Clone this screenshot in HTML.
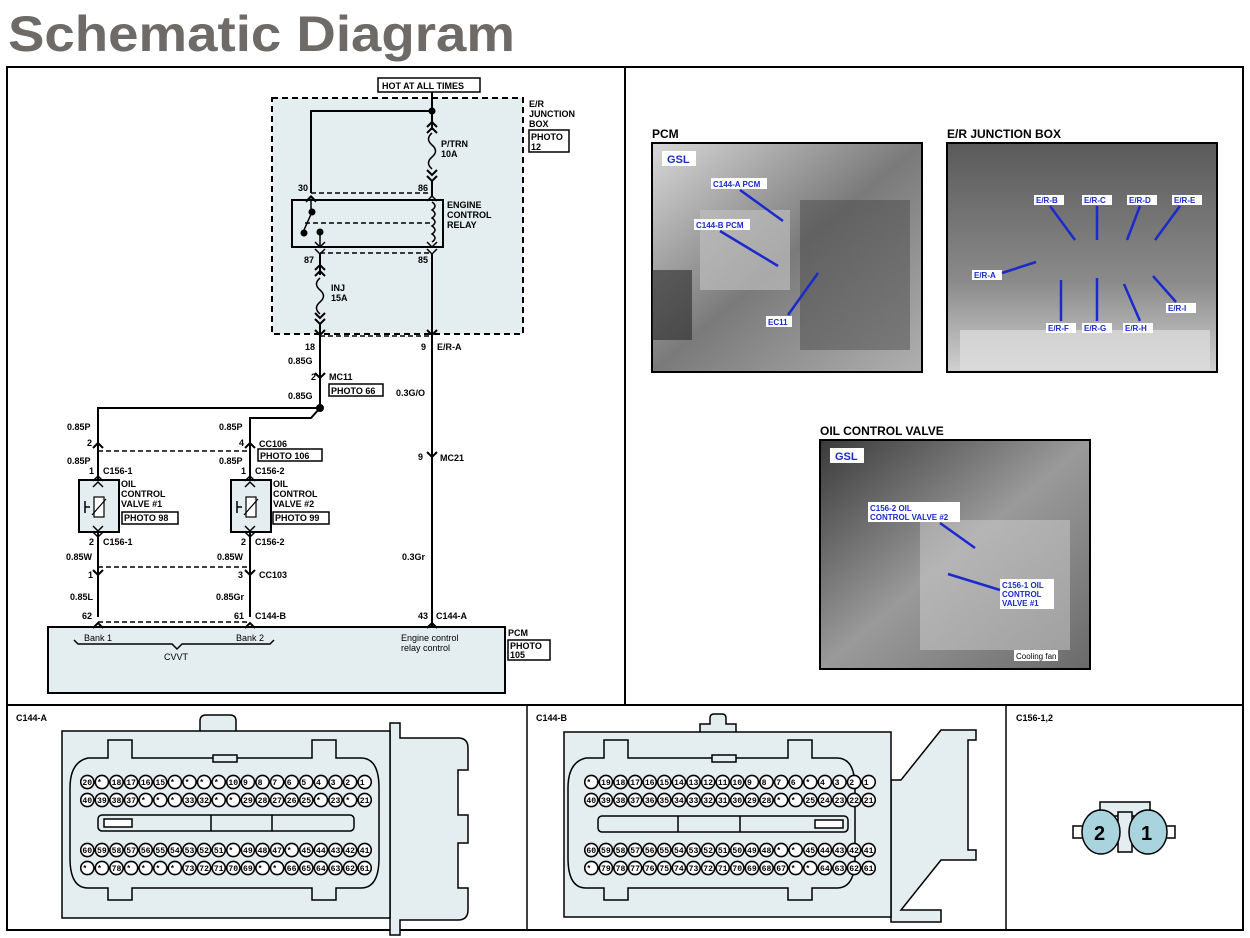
<!DOCTYPE html>
<html><head><meta charset="utf-8"><style>
html,body{margin:0;padding:0;background:#fff;}
svg{display:block;font-family:"Liberation Sans",Arial,sans-serif;}
.t{font-size:9px;font-weight:bold;}
.pin{font-family:"Liberation Mono",monospace;font-size:8.111px;font-weight:bold;}
</style></head><body>
<svg width="1250" height="938" viewBox="0 0 1250 938" xmlns="http://www.w3.org/2000/svg">
<defs>
<pattern id="pa1" x="80" y="773" width="14.6" height="18" patternUnits="userSpaceOnUse"><circle cx="7.3" cy="9" r="6.6" fill="#fff" stroke="#000" stroke-width="1.6"/></pattern>
<pattern id="pa2" x="80" y="841" width="14.6" height="18" patternUnits="userSpaceOnUse"><circle cx="7.3" cy="9" r="6.6" fill="#fff" stroke="#000" stroke-width="1.6"/></pattern>
<pattern id="pb1" x="584" y="773" width="14.6" height="18" patternUnits="userSpaceOnUse"><circle cx="7.3" cy="9" r="6.6" fill="#fff" stroke="#000" stroke-width="1.6"/></pattern>
<pattern id="pb2" x="584" y="841" width="14.6" height="18" patternUnits="userSpaceOnUse"><circle cx="7.3" cy="9" r="6.6" fill="#fff" stroke="#000" stroke-width="1.6"/></pattern>
<linearGradient id="g1" x1="0" y1="0" x2="1" y2="1"><stop offset="0" stop-color="#d8d8d8"/><stop offset="0.5" stop-color="#7a7a7a"/><stop offset="1" stop-color="#b0b0b0"/></linearGradient>
<linearGradient id="g2" x1="0" y1="0" x2="0" y2="1"><stop offset="0" stop-color="#5a5a5a"/><stop offset="0.6" stop-color="#8a8a8a"/><stop offset="1" stop-color="#d0d0d0"/></linearGradient>
<linearGradient id="g3" x1="0" y1="0" x2="1" y2="1"><stop offset="0" stop-color="#3a3a3a"/><stop offset="0.5" stop-color="#9a9a9a"/><stop offset="1" stop-color="#6a6a6a"/></linearGradient>
</defs>
<text x="8" y="51" font-size="50" font-weight="bold" fill="#6e6a67" textLength="507" lengthAdjust="spacingAndGlyphs">Schematic Diagram</text>
<rect x="7" y="67" width="1236" height="863" fill="none" stroke="#000" stroke-width="2"/>
<line x1="625" y1="67" x2="625" y2="705" stroke="#000" stroke-width="2"/>
<line x1="7" y1="705" x2="1243" y2="705" stroke="#000" stroke-width="2"/>
<line x1="527" y1="705" x2="527" y2="930" stroke="#000" stroke-width="1.5"/>
<line x1="1006" y1="705" x2="1006" y2="930" stroke="#000" stroke-width="1.5"/>

<g stroke="#000" fill="none" stroke-width="2">
<rect x="272" y="98" width="251" height="236" fill="#e4edf0" stroke-dasharray="6,4"/>
<rect x="378" y="78" width="102" height="14" fill="#fff" stroke-width="1.5"/>
<polyline points="432,92 432,111 311,111 311,193"/>
<circle cx="432" cy="111" r="2.5" fill="#000"/>
<line x1="432" y1="111" x2="432" y2="130"/>
<polyline points="427,127 432,122 437,127"/><polyline points="427,133 432,128 437,133"/>
<path d="M432 133 q-7 6 0 12 q7 6 0 12 q-7 6 0 12" stroke-width="1.5"/>
<polyline points="427,170 432,175 437,170"/><polyline points="427,176 432,181 437,176"/>
<line x1="432" y1="181" x2="432" y2="196"/>
<rect x="292" y="200" width="151" height="47"/>
<line x1="311" y1="193" x2="432" y2="193" stroke-dasharray="5,3" stroke-width="1.5"/>
<line x1="320" y1="253" x2="432" y2="253" stroke-dasharray="5,3" stroke-width="1.5"/>
<polyline points="306,201 311,196 316,201" stroke-width="1.5"/><polyline points="427,201 432,196 437,201" stroke-width="1.5"/>
<polyline points="306,202 311,197 316,202" stroke-width="1.5"/>
<line x1="311" y1="200" x2="311" y2="212" stroke-width="1.5"/>
<circle cx="312" cy="212" r="2.5" fill="#000"/>
<path d="M312 212 L304 230 L304 233" stroke-width="1.5"/>
<circle cx="304" cy="233" r="2.5" fill="#000"/><circle cx="320" cy="232" r="2.5" fill="#000"/>
<line x1="320" y1="232" x2="320" y2="248" stroke-width="1.5"/>
<polyline points="315,242 320,247 325,242" stroke-width="1.5"/><polyline points="315,249 320,254 325,249" stroke-width="1.5"/>
<line x1="305" y1="223" x2="432" y2="223" stroke-dasharray="5,3" stroke-width="1.5"/>
<path d="M432 202 q6 4 0 8 q6 4 0 8 q6 4 0 8 q6 4 0 8 q6 4 0 8" stroke-width="1.5"/>
<polyline points="427,242 432,247 437,242" stroke-width="1.5"/><polyline points="427,249 432,254 437,249" stroke-width="1.5"/>
<line x1="320" y1="254" x2="320" y2="275"/>
<polyline points="315,270 320,265 325,270"/><polyline points="315,276 320,271 325,276"/>
<path d="M320 278 q-7 6 0 12 q7 6 0 12 q-7 6 0 12" stroke-width="1.5"/>
<polyline points="315,313 320,318 325,313"/><polyline points="315,319 320,324 325,319"/><polyline points="315,330 320,335 325,330"/>
<line x1="320" y1="324" x2="320" y2="408"/>
<line x1="320" y1="336" x2="432" y2="336" stroke-dasharray="5,3" stroke-width="1.5"/>
<line x1="432" y1="254" x2="432" y2="628"/>
<polyline points="427,330 432,335 437,330"/>
<polyline points="315,373 320,378 325,373"/>
<polyline points="427,452 432,457 437,452"/>
<rect x="329" y="384" width="54" height="12" stroke-width="1.5"/>
<polyline points="98,443 98,408 320,408"/>
<circle cx="320" cy="408" r="3" fill="#000"/>
<polyline points="250,443 250,418 311,418 320,408"/>
<polyline points="93,448 98,443 103,448"/><polyline points="245,448 250,443 255,448"/>
<line x1="98" y1="451" x2="250" y2="451" stroke-dasharray="5,3" stroke-width="1.5"/>
<line x1="98" y1="443" x2="98" y2="617"/><line x1="250" y1="443" x2="250" y2="617"/>
<rect x="258" y="449" width="64" height="12" stroke-width="1.5"/>
<rect x="79" y="480" width="40" height="52" fill="#e4edf0"/>
<rect x="231" y="480" width="40" height="52" fill="#e4edf0"/>
<polyline points="93,481 98,476 103,481" stroke-width="1.5"/><polyline points="245,481 250,476 255,481" stroke-width="1.5"/>
<polyline points="93,487 98,482 103,487" stroke-width="1.5"/><polyline points="245,487 250,482 255,487" stroke-width="1.5"/>
<polyline points="93,526 98,531 103,526" stroke-width="1.5"/><polyline points="245,526 250,531 255,526" stroke-width="1.5"/>
<polyline points="93,532 98,537 103,532" stroke-width="1.5"/><polyline points="245,532 250,537 255,532" stroke-width="1.5"/>
<rect x="94" y="497" width="10" height="20" fill="#fff" stroke-width="1.2"/><line x1="92" y1="515" x2="106" y2="499" stroke-width="1.2"/>
<rect x="246" y="497" width="10" height="20" fill="#fff" stroke-width="1.2"/><line x1="244" y1="515" x2="258" y2="499" stroke-width="1.2"/>
<path d="M85 501 v12 M85 507 h5" stroke-width="1.5"/><path d="M237 501 v12 M237 507 h5" stroke-width="1.5"/>
<rect x="122" y="512" width="56" height="12" stroke-width="1.5"/>
<rect x="273" y="512" width="56" height="12" stroke-width="1.5"/>
<polyline points="93,570 98,575 103,570"/><polyline points="245,570 250,575 255,570"/>
<line x1="98" y1="567" x2="250" y2="567" stroke-dasharray="5,3" stroke-width="1.5"/>
<line x1="98" y1="622" x2="250" y2="622" stroke-dasharray="5,3" stroke-width="1.5"/>
<rect x="48" y="627" width="457" height="66" fill="#e4edf0"/>
<polyline points="93,628 98,623 103,628"/><polyline points="245,628 250,623 255,628"/><polyline points="427,628 432,623 437,628"/>
<path d="M74 640 l4 4 h94 l5 5 l5 -5 h88 l4 -4" stroke-width="1.5"/>
<rect x="508" y="640" width="42" height="20" stroke-width="1.5"/>
<rect x="529" y="130" width="40" height="22" stroke-width="1.5"/>
</g>
<g class="t">
<text x="382" y="89">HOT AT ALL TIMES</text>
<text x="529" y="107">E/R</text><text x="529" y="117">JUNCTION</text><text x="529" y="127">BOX</text>
<text x="531" y="140">PHOTO</text><text x="531" y="150">12</text>
<text x="441" y="147">P/TRN</text><text x="441" y="157">10A</text>
<text x="298" y="191">30</text><text x="418" y="191">86</text>
<text x="447" y="208">ENGINE</text><text x="447" y="218">CONTROL</text><text x="447" y="228">RELAY</text>
<text x="304" y="263">87</text><text x="418" y="263">85</text>
<text x="331" y="291">INJ</text><text x="331" y="301">15A</text>
<text x="305" y="350">18</text><text x="421" y="350">9</text><text x="437" y="350">E/R-A</text>
<text x="288" y="364">0.85G</text>
<text x="311" y="380">2</text><text x="329" y="380">MC11</text>
<text x="331" y="394">PHOTO 66</text>
<text x="288" y="399">0.85G</text><text x="396" y="396">0.3G/O</text>
<text x="67" y="430">0.85P</text><text x="219" y="430">0.85P</text>
<text x="87" y="446">2</text><text x="239" y="446">4</text><text x="259" y="447">CC106</text>
<text x="260" y="459">PHOTO 106</text>
<text x="67" y="464">0.85P</text><text x="219" y="464">0.85P</text>
<text x="89" y="474">1</text><text x="103" y="474">C156-1</text><text x="241" y="474">1</text><text x="255" y="474">C156-2</text>
<text x="121" y="487">OIL</text><text x="121" y="497">CONTROL</text><text x="121" y="507">VALVE #1</text>
<text x="273" y="487">OIL</text><text x="273" y="497">CONTROL</text><text x="273" y="507">VALVE #2</text>
<text x="124" y="521">PHOTO 98</text><text x="275" y="521">PHOTO 99</text>
<text x="418" y="460">9</text><text x="440" y="461">MC21</text>
<text x="89" y="545">2</text><text x="103" y="545">C156-1</text><text x="241" y="545">2</text><text x="255" y="545">C156-2</text>
<text x="66" y="560">0.85W</text><text x="217" y="560">0.85W</text><text x="402" y="560">0.3Gr</text>
<text x="88" y="578">1</text><text x="238" y="578">3</text><text x="259" y="578">CC103</text>
<text x="70" y="600">0.85L</text><text x="216" y="600">0.85Gr</text>
<text x="82" y="619">62</text><text x="234" y="619">61</text><text x="255" y="619">C144-B</text>
<text x="418" y="619">43</text><text x="436" y="619">C144-A</text>
<text x="508" y="636">PCM</text><text x="510" y="649">PHOTO</text><text x="510" y="658">105</text>
</g>
<g font-size="9">
<text x="84" y="641">Bank 1</text><text x="236" y="641">Bank 2</text><text x="164" y="660">CVVT</text>
<text x="401" y="641">Engine control</text><text x="401" y="651">relay control</text>
</g>

<g font-weight="bold" font-size="12">
<text x="652" y="138">PCM</text><text x="947" y="138">E/R JUNCTION BOX</text><text x="820" y="435">OIL CONTROL VALVE</text>
</g>
<rect x="652" y="143" width="270" height="229" fill="url(#g1)" stroke="#000" stroke-width="2"/>
<rect x="700" y="210" width="90" height="80" fill="#bdbdbd" opacity="0.7"/>
<rect x="800" y="200" width="110" height="150" fill="#4a4a4a" opacity="0.5"/>
<rect x="652" y="270" width="40" height="70" fill="#2a2a2a" opacity="0.6"/>
<rect x="947" y="143" width="270" height="229" fill="url(#g2)" stroke="#000" stroke-width="2"/>
<rect x="960" y="330" width="250" height="40" fill="#e0e0e0" opacity="0.7"/>
<rect x="820" y="440" width="270" height="229" fill="url(#g3)" stroke="#000" stroke-width="2"/>
<rect x="920" y="520" width="150" height="130" fill="#cfcfcf" opacity="0.5"/>
<g fill="#fff"><rect x="662" y="151" width="34" height="15"/><rect x="830" y="448" width="34" height="15"/>
<rect x="711" y="178" width="56" height="11"/><rect x="694" y="219" width="56" height="11"/><rect x="766" y="316" width="26" height="11"/>
<rect x="1034" y="195" width="30" height="10"/><rect x="1082" y="195" width="30" height="10"/><rect x="1127" y="195" width="30" height="10"/><rect x="1172" y="195" width="30" height="10"/>
<rect x="972" y="270" width="30" height="10"/><rect x="1046" y="323" width="30" height="10"/><rect x="1082" y="323" width="30" height="10"/><rect x="1123" y="323" width="30" height="10"/><rect x="1166" y="303" width="30" height="10"/>
<rect x="868" y="502" width="92" height="20"/><rect x="1000" y="579" width="54" height="30"/><rect x="1014" y="650" width="44" height="11"/></g>
<g fill="#1a2acc" font-weight="bold" font-size="8">
<text x="667" y="163" font-size="11">GSL</text><text x="835" y="460" font-size="11">GSL</text>
<text x="713" y="187">C144-A PCM</text><text x="696" y="228">C144-B PCM</text><text x="768" y="325">EC11</text>
<text x="1036" y="203">E/R-B</text><text x="1084" y="203">E/R-C</text><text x="1129" y="203">E/R-D</text><text x="1174" y="203">E/R-E</text>
<text x="974" y="278">E/R-A</text><text x="1048" y="331">E/R-F</text><text x="1084" y="331">E/R-G</text><text x="1125" y="331">E/R-H</text><text x="1168" y="311">E/R-I</text>
<text x="870" y="511">C156-2 OIL</text><text x="870" y="520">CONTROL VALVE #2</text>
<text x="1002" y="588">C156-1 OIL</text><text x="1002" y="597">CONTROL</text><text x="1002" y="606">VALVE #1</text>
</g>
<text x="1016" y="659" font-size="8" fill="#000">Cooling fan</text>
<g stroke="#1a2acc" stroke-width="2.5">
<line x1="740" y1="190" x2="783" y2="221"/><line x1="720" y1="231" x2="778" y2="266"/><line x1="788" y1="315" x2="818" y2="273"/>
<line x1="1050" y1="206" x2="1075" y2="240"/><line x1="1097" y1="206" x2="1097" y2="240"/><line x1="1140" y1="206" x2="1127" y2="240"/><line x1="1180" y1="206" x2="1155" y2="240"/>
<line x1="1002" y1="273" x2="1036" y2="262"/><line x1="1061" y1="321" x2="1061" y2="280"/><line x1="1097" y1="321" x2="1097" y2="278"/><line x1="1140" y1="321" x2="1124" y2="284"/><line x1="1176" y1="302" x2="1153" y2="276"/>
<line x1="940" y1="523" x2="975" y2="548"/><line x1="1000" y1="590" x2="948" y2="574"/>
</g>

<!-- C144-A -->
<text x="16" y="721" class="t">C144-A</text>
<g stroke="#000" stroke-width="1.5" fill="#e4edf0">
<path d="M200 731 v-10 q0 -6 6 -6 h24 q6 0 6 6 v10" />
<path d="M390 723 h10 v15 h58 q10 0 10 10 v22 h-10 v45 h10 v28 h-10 v45 h10 v22 q0 10 -10 10 h-58 v15 h-10 z"/>
<rect x="62" y="731" width="328" height="187"/>
<path d="M108 740 v18 h-20 q-18 4 -18 30 v70 q0 30 18 30 h20 v12 h24 v-12 h180 v12 h24 v-12 h25 q18 0 18 -30 v-70 q0 -30 -18 -30 h-25 v-18 h-24 v18 h-180 v-18 z"/>
<rect x="213" y="755" width="24" height="7"/>
<rect x="98" y="815" width="256" height="16" rx="4"/>
<line x1="211" y1="815" x2="211" y2="831"/><line x1="272" y1="815" x2="272" y2="831"/>
<rect x="104" y="819" width="28" height="8" fill="#fff"/>
</g>
<rect x="80" y="773" width="292" height="36" fill="url(#pa1)"/>
<rect x="80" y="841" width="292" height="36" fill="url(#pa2)"/>
<g class="pin">
<text x="82.43" y="785">20&nbsp;*&nbsp;&nbsp;18&nbsp;17&nbsp;16&nbsp;15&nbsp;*&nbsp;&nbsp;*&nbsp;&nbsp;*&nbsp;&nbsp;*&nbsp;&nbsp;10&nbsp;9&nbsp;&nbsp;8&nbsp;&nbsp;7&nbsp;&nbsp;6&nbsp;&nbsp;5&nbsp;&nbsp;4&nbsp;&nbsp;3&nbsp;&nbsp;2&nbsp;&nbsp;1</text>
<text x="82.43" y="803">40&nbsp;39&nbsp;38&nbsp;37&nbsp;*&nbsp;&nbsp;*&nbsp;&nbsp;*&nbsp;&nbsp;33&nbsp;32&nbsp;*&nbsp;&nbsp;*&nbsp;&nbsp;29&nbsp;28&nbsp;27&nbsp;26&nbsp;25&nbsp;*&nbsp;&nbsp;23&nbsp;*&nbsp;&nbsp;21</text>
<text x="82.43" y="853">60&nbsp;59&nbsp;58&nbsp;57&nbsp;56&nbsp;55&nbsp;54&nbsp;53&nbsp;52&nbsp;51&nbsp;*&nbsp;&nbsp;49&nbsp;48&nbsp;47&nbsp;*&nbsp;&nbsp;45&nbsp;44&nbsp;43&nbsp;42&nbsp;41</text>
<text x="82.43" y="871">*&nbsp;&nbsp;*&nbsp;&nbsp;78&nbsp;*&nbsp;&nbsp;*&nbsp;&nbsp;*&nbsp;&nbsp;*&nbsp;&nbsp;73&nbsp;72&nbsp;71&nbsp;70&nbsp;69&nbsp;*&nbsp;&nbsp;*&nbsp;&nbsp;66&nbsp;65&nbsp;64&nbsp;63&nbsp;62&nbsp;61</text>
</g>

<!-- C144-B -->
<text x="536" y="721" class="t">C144-B</text>
<g stroke="#000" stroke-width="1.5" fill="#e4edf0">
<path d="M700 732 v-8 h10 v-6 q0 -4 4 -4 h8 q4 0 4 4 v6 h10 v8"/>
<path d="M891 780 h10 l40 -50 h35 v10 h-8 v110 h8 v10 h-35 l-40 50 h40 v12 h-50 z"/>
<rect x="564" y="732" width="327" height="185"/>
<path d="M604 740 v18 h-18 q-18 4 -18 30 v70 q0 30 18 30 h18 v12 h24 v-12 h160 v12 h24 v-12 h25 q18 0 18 -30 v-70 q0 -30 -18 -30 h-25 v-18 h-24 v18 h-160 v-18 z"/>
<rect x="712" y="755" width="24" height="7"/>
<rect x="598" y="816" width="250" height="16" rx="4"/>
<line x1="678" y1="816" x2="678" y2="832"/><line x1="740" y1="816" x2="740" y2="832"/>
<rect x="815" y="820" width="28" height="8" fill="#fff"/>
</g>
<rect x="584" y="773" width="292" height="36" fill="url(#pb1)"/>
<rect x="584" y="841" width="292" height="36" fill="url(#pb2)"/>
<g class="pin">
<text x="586.43" y="785">*&nbsp;&nbsp;19&nbsp;18&nbsp;17&nbsp;16&nbsp;15&nbsp;14&nbsp;13&nbsp;12&nbsp;11&nbsp;10&nbsp;9&nbsp;&nbsp;8&nbsp;&nbsp;7&nbsp;&nbsp;6&nbsp;&nbsp;*&nbsp;&nbsp;4&nbsp;&nbsp;3&nbsp;&nbsp;2&nbsp;&nbsp;1</text>
<text x="586.43" y="803">40&nbsp;39&nbsp;38&nbsp;37&nbsp;36&nbsp;35&nbsp;34&nbsp;33&nbsp;32&nbsp;31&nbsp;30&nbsp;29&nbsp;28&nbsp;*&nbsp;&nbsp;*&nbsp;&nbsp;25&nbsp;24&nbsp;23&nbsp;22&nbsp;21</text>
<text x="586.43" y="853">60&nbsp;59&nbsp;58&nbsp;57&nbsp;56&nbsp;55&nbsp;54&nbsp;53&nbsp;52&nbsp;51&nbsp;50&nbsp;49&nbsp;48&nbsp;*&nbsp;&nbsp;*&nbsp;&nbsp;45&nbsp;44&nbsp;43&nbsp;42&nbsp;41</text>
<text x="586.43" y="871">*&nbsp;&nbsp;79&nbsp;78&nbsp;77&nbsp;76&nbsp;75&nbsp;74&nbsp;73&nbsp;72&nbsp;71&nbsp;70&nbsp;69&nbsp;68&nbsp;67&nbsp;*&nbsp;&nbsp;*&nbsp;&nbsp;64&nbsp;63&nbsp;62&nbsp;61</text>
</g>

<!-- C156 -->
<text x="1016" y="721" class="t">C156-1,2</text>
<g stroke="#000" stroke-width="1.5">
<rect x="1100" y="802" width="50" height="14" fill="#e4edf0"/>
<rect x="1073" y="826" width="10" height="12" fill="#fff"/><rect x="1165" y="826" width="10" height="12" fill="#fff"/>
<rect x="1118" y="812" width="14" height="40" fill="#e4edf0"/>
<ellipse cx="1101" cy="832" rx="19" ry="22" fill="#a9d3dd"/>
<ellipse cx="1148" cy="832" rx="19" ry="22" fill="#a9d3dd"/>
</g>
<text x="1094" y="840" font-size="20" font-weight="bold">2</text>
<text x="1141" y="840" font-size="20" font-weight="bold">1</text>
</svg>
</body></html>
